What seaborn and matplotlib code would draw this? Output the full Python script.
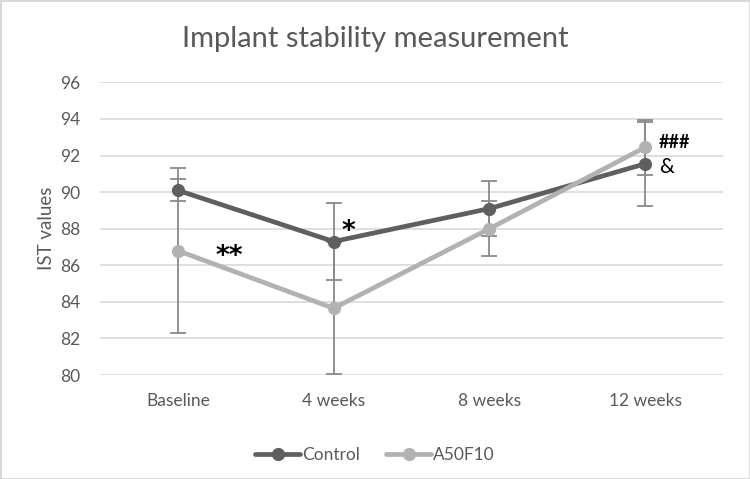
import pandas as pd
import matplotlib.pyplot as plt
import seaborn as sns

# values
timepoints = ["Baseline", "4 weeks", "8 weeks", "12 weeks"]
control_mean = [90.1, 87.3, 89.1, 91.55]
control_err = [0.6, 2.1, 1.5, 2.3]
a50f10_mean = [86.8, 83.65, 88.0, 92.45]
a50f10_err = [4.5, 3.6, 1.5, 1.5]
groups = ["Control", "A50F10"]
yticks = [80, 82, 84, 86, 88, 90, 92, 94, 96]

df = pd.DataFrame({
    "time": timepoints * 2,
    "ist": control_mean + a50f10_mean,
    "err": control_err + a50f10_err,
    "group": [groups[0]] * 4 + [groups[1]] * 4,
})

sns.set_theme(style="white")
plt.rcParams["font.family"] = ["Lato", "DejaVu Sans"]

text_col = "#595959"
colors = {"Control": "#5f5f5f", "A50F10": "#b2b2b2"}

fig = plt.figure(figsize=(7.5, 4.79), dpi=100, edgecolor="#d9d9d9", linewidth=2)
ax = fig.add_axes([0.1333, 0.217, 0.8307, 0.611])

# error bars underneath the lines
for g in groups:
    sub = df[df["group"] == g]
    ax.errorbar(range(len(timepoints)), sub["ist"], yerr=sub["err"], fmt="none",
                ecolor="#8a8a8a", elinewidth=1.3, capsize=6, capthick=1.3, zorder=2)

sns.lineplot(data=df, x="time", y="ist", hue="group", palette=colors, sort=False,
             marker="o", markersize=9.5, markeredgewidth=0, linewidth=3.4,
             errorbar=None, ax=ax, zorder=3)

ax.set_ylim(80, 96)
ax.set_xlim(-0.5, 3.5)
ax.set_yticks(yticks)
ax.grid(axis="y", color="#d9d9d9", linewidth=1.2)
ax.set_axisbelow(True)
for s in ax.spines.values():
    s.set_visible(False)
ax.tick_params(axis="both", length=0, labelsize=12.5, colors=text_col, pad=14)
ax.tick_params(axis="x", pad=13)
ax.set_xlabel("")
ax.set_ylabel("IST values", fontsize=13.5, color=text_col, labelpad=4)
fig.text(0.5, 0.918, "Implant stability measurement", fontsize=21, color=text_col,
         ha="center", va="center")

# significance marks
star_font = ["DejaVu Sans"]
ax.text(0.245, 86.45, "**", fontsize=19, fontweight="bold", color="black",
        va="center", family=star_font)
ax.text(1.05, 87.8, "*", fontsize=19, fontweight="bold", color="black",
        va="center", family=star_font)
ax.text(3.09, 92.7, "###", fontsize=13, fontweight="bold", color="black", va="center")
ax.text(3.09, 91.35, "&", fontsize=15, color="black", va="center")

handles, labels = ax.get_legend_handles_labels()
ax.legend().remove()
fig.legend(handles, labels, loc="upper center", bbox_to_anchor=(0.5, 0.1), ncol=2,
           frameon=False, fontsize=12.5, labelcolor=text_col, handlelength=2.6,
           handletextpad=0.1, columnspacing=1.5)

fig.savefig("out.png", dpi=100)
